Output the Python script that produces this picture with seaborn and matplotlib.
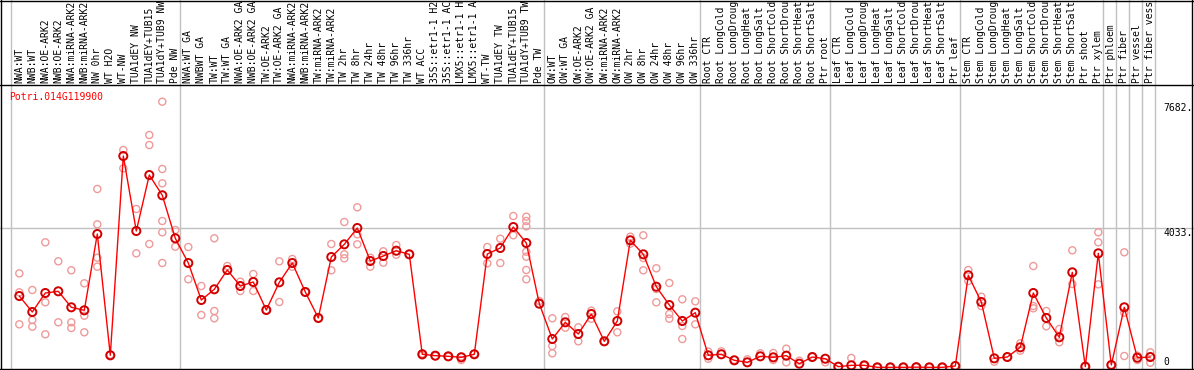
"""
Expression profile of Potri.014G119900 across poplar samples.
"""
import numpy as np
import pandas as pd
import matplotlib
matplotlib.use('Agg')
import matplotlib.pyplot as plt
import seaborn as sns

# --- Data ---
GENE = 'Potri.014G119900'

labels = [
    'NWA:WT', 'NWB:WT', 'NWA:OE-ARK2', 'NWB:OE-ARK2', 'NWA:miRNA-ARK2',
    'NWB:miRNA-ARK2', 'NW 0hr', 'WT H2O', 'WT-NW', 'TUA1dEY NW',
    'TUA1dEY+TUB15', 'TUA1dY+TUB9 NW', 'Pde NW',
    'NWA:WT GA', 'NWBWT GA', 'TW:WT', 'TW:WT GA', 'NWA:OE-ARK2 GA',
    'NWB:OE-ARK2 GA', 'TW:OE-ARK2', 'TW:OE-ARK2 GA', 'NWA:miRNA-ARK2',
    'NWB:miRNA-ARK2', 'TW:miRNA-ARK2', 'TW:miRNA-ARK2', 'TW 2hr', 'TW 8hr',
    'TW 24hr', 'TW 48hr', 'TW 96hr', 'TW 336hr', 'WT ACC', '35S::etr1-1 H2',
    '35S::etr1-1 AC', 'LMX5::etr1-1 H', 'LMX5::etr1-1 A', 'WT-TW',
    'TUA1dEY TW', 'TUA1dEY+TUB15', 'TUA1dY+TUB9 TW', 'Pde TW',
    'OW:WT', 'OW:WT GA', 'OW:OE-ARK2', 'OW:OE-ARK2 GA', 'OW:miRNA-ARK2',
    'OW:miRNA-ARK2', 'OW 2hr', 'OW 8hr', 'OW 24hr', 'OW 48hr', 'OW 96hr',
    'OW 336hr',
    'Root CTR', 'Root LongCold', 'Root LongDroug', 'Root LongHeat',
    'Root LongSalt', 'Root ShortCold', 'Root ShortDrou', 'Root ShortHeat',
    'Root ShortSalt', 'Ptr root',
    'Leaf CTR', 'Leaf LongCold', 'Leaf LongDroug', 'Leaf LongHeat',
    'Leaf LongSalt', 'Leaf ShortCold', 'Leaf ShortDrou', 'Leaf ShortHeat',
    'Leaf ShortSalt', 'Ptr leaf',
    'Stem CTR', 'Stem LongCold', 'Stem LongDroug', 'Stem LongHeat',
    'Stem LongSalt', 'Stem ShortCold', 'Stem ShortDrou', 'Stem ShortHeat',
    'Stem ShortSalt', 'Ptr shoot', 'Ptr xylem',
    'Ptr phloem', 'Ptr fiber', 'Ptr vessel', 'Ptr fiber vess',
]

means = [
    2066, 1604, 2153, 2202, 1740, 1653, 3858, 352, 6112, 3945, 5563, 4977, 3734,
    3020, 1951, 2260, 2818, 2355, 2471, 1662, 2462, 3020, 2182, 1431, 3193,
    3560, 4032, 3078, 3222, 3375, 3271, 382, 342, 323, 294, 382, 3280, 3454,
    4060, 3598, 1844,
    824, 1306, 968, 1546, 757, 1344, 3676, 3271, 2335, 1806, 1344, 1584,
    352, 382, 208, 150, 323, 294, 342, 111, 303, 254,
    24, 63, 63, 5, 5, 5, 10, 5, 5, 43,
    2665, 1893, 265, 303, 584, 2153, 1431, 873, 2751, 24, 3300,
    72, 1740, 283, 303,
]

replicates = [
    [2721, 2173, 1248], [2240, 1373, 1180], [3618, 1884, 959], [3069, 1306],
    [2809, 1306, 1142], [2433, 1497, 1017], [5159, 4138, 3173, 2913], [370],
    [6286, 5757], [4581, 3300], [6719, 6430, 3569],
    [7682, 5737, 5323, 4234, 3907, 3020], [3974, 3491],
    [3482, 2549], [2355, 1517], [3734, 1633, 1422], [2933], [2480, 2211],
    [2702, 2211], [1662], [3069, 1893], [3136, 2913], [2182], [1431],
    [3569, 2809], [4205, 3271, 3156], [4630, 3849, 3560], [3173, 2913],
    [3358, 3029], [3540, 3260], [3271], [400, 350], [330], [310],
    [217, 320], [395], [3482, 3011], [3723, 3020], [4378, 3821],
    [4358, 4234, 4081, 3347, 3202, 2818, 2549], [1922],
    [1422, 621, 410], [1459, 1150], [1162, 757], [1641, 1410], [740],
    [1624, 1017], [3780, 3578], [3821, 3165, 2809], [2867, 2269, 1884],
    [2442, 1546, 1410], [1971, 1199, 824], [1913, 1248],
    [457, 254], [468], [220], [237], [410], [419, 217], [544, 150], [197],
    [303], [150],
    [30], [275], [50], [0], [0], [0], [5], [0], [0], [60],
    [2818, 2500], [2046, 1777], [168], [303], [699, 486], [2933, 1777, 1711],
    [1633, 1191], [1113, 728], [3387, 2413], [40], [3907, 3618, 2404],
    [80], [3329, 1584, 332], [342, 217], [439, 139],
]

# last index of each sample group, a separator is drawn after each one
group_ends = [-1, 12, 40, 52, 62, 72, 83, 84, 85, 86, 87]
ytick_vals = [7682, 4033]

# --- Pixel helpers (figure is 1194 x 370 px) ---
X0, DX = 19.3, 13.0
Y0, DY = 367.5, 0.0346


def px2x(px):
    return (px - X0) / DX


def px2y(py):
    return (Y0 - py) / DY


idx = np.arange(len(labels))
df_mean = pd.DataFrame({'x': idx, 'value': means})
df_rep = pd.DataFrame(
    [(i, v) for i, vals in enumerate(replicates) for v in vals],
    columns=['x', 'value'])

sns.set_style('white')
plt.rcParams['font.family'] = ['DejaVu Sans Mono', 'DejaVu Sans']

fig = plt.figure(figsize=(11.94, 3.70), dpi=100)
ax = fig.add_axes([0, 0, 1, 1])
ax.set_xlim(px2x(0), px2x(1194))
ax.set_ylim(px2y(370), px2y(0))
ax.set_axis_off()

grey = '#c0c0c0'
# group separators and reference line
for g in group_ends:
    ax.axvline(g + 0.36, color=grey, lw=1.0, zorder=1)
ax.axhline(ytick_vals[1], color=grey, lw=1.0, zorder=1)

# borders
ax.axhline(px2y(0.5), color='black', lw=1.0, zorder=5)
ax.axhline(px2y(85), color='black', lw=1.0, zorder=5)
ax.axhline(px2y(368.5), color='black', lw=1.0, zorder=5)
ax.axvline(px2x(0.5), color='black', lw=1.0, zorder=5)
ax.axvline(px2x(1192), color='black', lw=1.0, zorder=5)

# replicates
sns.scatterplot(data=df_rep, x='x', y='value', ax=ax, s=26,
                facecolors='none', edgecolor='#ef9a9a', linewidth=1.0,
                zorder=2, legend=False)
# mean profile
sns.lineplot(data=df_mean, x='x', y='value', ax=ax, color='red', lw=1.0,
             zorder=3, legend=False)
sns.scatterplot(data=df_mean, x='x', y='value', ax=ax, s=34,
                facecolors='none', edgecolor='#d00000', linewidth=1.4,
                zorder=4, legend=False)

# sample labels in the header
for i, lab in enumerate(labels):
    ax.text(i, px2y(83), lab, rotation=90, ha='center', va='bottom',
            fontsize=7, color='black', zorder=6)

# gene name
ax.text(px2x(9), px2y(97), GENE, ha='left', va='center', fontsize=7,
        color='red', zorder=6)

# value labels on the right
ax.text(px2x(1163), px2y(108), f'{ytick_vals[0]}.', ha='left', va='center',
        fontsize=7, color='black')
ax.text(px2x(1163), px2y(233), f'{ytick_vals[1]}.', ha='left', va='center',
        fontsize=7, color='black')
ax.text(px2x(1163), px2y(362), '0', ha='left', va='center',
        fontsize=7, color='black')

ax.set_xlabel('')
ax.set_ylabel('')
plt.savefig('out.png', dpi=100)
plt.close()
